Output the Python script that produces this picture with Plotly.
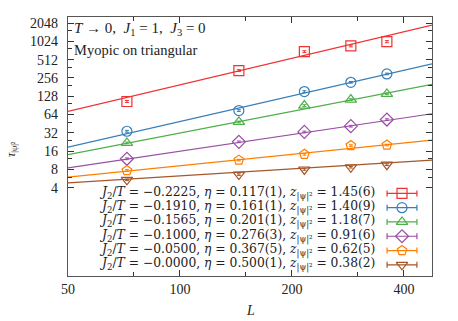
"""
Relaxation time tau_|psi|^2 vs system size L (log-log), myopic dynamics on triangular lattice
"""

import plotly.graph_objects as go

# system sizes
L = [72, 144, 216, 288, 360]

# J2/T labels, exponents and fitted dynamic exponents
j2t = ['−0.2225', '−0.1910', '−0.1565', '−0.1000', '−0.0500', '−0.0000']
eta = ['0.117(1)', '0.161(1)', '0.201(1)', '0.276(3)', '0.367(5)', '0.500(1)']
z_lbl = ['1.45(6)', '1.40(9)', '1.18(7)', '0.91(6)', '0.62(5)', '0.38(2)']
z_fit = [1.45, 1.40, 1.18, 0.91, 0.62, 0.38]
# fit amplitude at L = 50
amp50 = [72, 18.6, 14.0, 8.5, 6.0, 4.83]

tau = [
    [105, 338, 693, 860, 1010],
    [34, 74.5, 153, 217, 298],
    [21.9, 48.4, 90, 113, 140],
    [12.0, 22.8, 33.2, 41.2, 53],
    [7.7, 11.4, 14.2, 19.8, 20.2],
    [5.4, 6.6, 8.0, 8.7, 9.6],
]
tau_err = [
    [4, 12, 25, 30, 40],
    [1.2, 2.5, 5, 7, 9],
    [0.7, 1.5, 3, 3.5, 4],
    [0.4, 0.7, 1.0, 1.3, 1.6],
    [0.25, 0.35, 0.45, 0.6, 0.6],
    [0.15, 0.2, 0.25, 0.25, 0.3],
]

y_ticks = [4, 8, 16, 32, 64, 128, 256, 512, 1024, 2048]
y_minor = [6, 12, 24, 48, 96, 192, 384, 768, 1536]
x_ticks = [50, 100, 200, 400]
x_minor = [75, 150, 300]

COLORS = ['#f03232', '#377eb8', '#4daf4a', '#984ea3', '#ff7f00', '#a65628']
SYMBOLS = ['square-open', 'circle-open', 'triangle-up-open',
           'diamond-open', 'pentagon-open', 'triangle-down-open']

SERIF = 'Liberation Serif, Times New Roman, serif'
WIDE_SERIF = 'DejaVu Serif, serif'
L_MIN, L_MAX = 50, 476

fig = go.Figure()

for i in range(len(tau)):
    c = COLORS[i]
    # power-law fit line
    fit_x = [L_MIN, L_MAX]
    fit_y = [amp50[i] * (x / 50.0) ** z_fit[i] for x in fit_x]
    fig.add_trace(go.Scatter(
        x=fit_x, y=fit_y, mode='lines',
        line=dict(color=c, width=1.2),
        showlegend=False, hoverinfo='skip'
    ))
    fig.add_trace(go.Scatter(
        x=L, y=tau[i], mode='markers',
        marker=dict(symbol=SYMBOLS[i], size=10, color=c, line=dict(width=1.2, color=c)),
        error_y=dict(type='data', array=tau_err[i], color=c, thickness=1, width=2),
        showlegend=False,
        hovertemplate='L=%{x}<br>tau=%{y}<extra></extra>'
    ))

# hand-made key (symbol to the right of the text, gnuplot style)
key_x = 0.9176
key_top = 0.319
key_step = 0.0552
key_y = [key_top - k * key_step for k in range(len(tau))]
for i in range(len(tau)):
    c = COLORS[i]
    fig.add_trace(go.Scatter(
        x=[key_x], y=[key_y[i]], xaxis='x2', yaxis='y2', mode='markers',
        marker=dict(symbol=SYMBOLS[i], size=10, color=c, line=dict(width=1.2, color=c)),
        error_x=dict(type='constant', value=0.041, color=c, thickness=1.2, width=3),
        showlegend=False, hoverinfo='skip'
    ))
    fig.add_annotation(
        xref='paper', yref='paper', x=0.849, y=key_y[i],
        xanchor='right', yanchor='middle', showarrow=False,
        text=(f'<i>J</i><sub>2</sub>/<i>T</i> = {j2t[i]}, <i>η</i> = {eta[i]}, '
              f'<i>z</i><sub>|ψ|²</sub> = {z_lbl[i]}'),
        font=dict(family=WIDE_SERIF, size=12.3, color='#222')
    )

fig.add_annotation(
    xref='paper', yref='paper', x=0.012, y=0.954, xanchor='left', yanchor='middle',
    showarrow=False,
    text='<i>T</i> → 0,  <i>J</i><sub>1</sub> = 1,  <i>J</i><sub>3</sub> = 0',
    font=dict(family=SERIF, size=15, color='#222')
)
fig.add_annotation(
    xref='paper', yref='paper', x=0.012, y=0.872, xanchor='left', yanchor='middle',
    showarrow=False, text='Myopic on triangular',
    font=dict(family=SERIF, size=14.5, color='#222')
)
# axis titles
fig.add_annotation(
    xref='paper', yref='paper', x=-0.154, y=0.49, textangle=-90,
    xanchor='center', yanchor='middle', showarrow=False,
    text='<i>τ</i><sub>|ψ|²</sub>',
    font=dict(family=SERIF, size=12, color='#222')
)
fig.add_annotation(
    xref='paper', yref='paper', x=0.5, y=-0.135,
    xanchor='center', yanchor='middle', showarrow=False,
    text='<i>L</i>', font=dict(family=SERIF, size=14, color='#222')
)

axis_common = dict(
    showgrid=False, zeroline=False, showline=True, mirror='allticks',
    linecolor='#555', linewidth=1.3, ticks='inside', ticklen=6,
    tickwidth=1, tickcolor='#333',
    tickfont=dict(family=SERIF, size=14, color='#222'),
)

fig.update_layout(
    width=458, height=321,
    margin=dict(l=68, r=26, t=17, b=45),
    plot_bgcolor='white', paper_bgcolor='white',
    showlegend=False,
    xaxis=dict(
        type='log', range=[1.69897, 2.6776],
        tickmode='array', tickvals=x_ticks, ticktext=[str(v) for v in x_ticks],
        minor=dict(tickmode='array', tickvals=x_minor, ticks='inside', ticklen=4,
                   tickcolor='#333', showgrid=False),
        **axis_common
    ),
    yaxis=dict(
        type='log', range=[-0.848, 3.41],
        tickmode='array', tickvals=y_ticks, ticktext=[str(v) for v in y_ticks],
        minor=dict(tickmode='array', tickvals=y_minor, ticks='inside', ticklen=4,
                   tickcolor='#333', showgrid=False),
        ticklabelstandoff=6,
        **axis_common
    ),
    xaxis2=dict(overlaying='x', range=[0, 1], visible=False, anchor='y2'),
    yaxis2=dict(overlaying='y', range=[0, 1], visible=False, anchor='x2'),
)

# drop the browser's default body margin so the figure sits at the page corner
fig.write_html("out.html", config={'displayModeBar': False},
               post_script="document.body.style.margin = '0';")
